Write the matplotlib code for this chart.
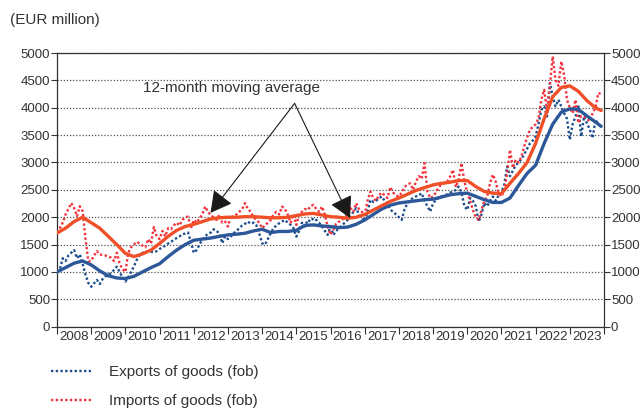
import matplotlib
matplotlib.use("Agg")
import matplotlib.pyplot as plt
import numpy as np

plt.rcParams['font.family'] = ['Liberation Sans', 'DejaVu Sans']

years = list(range(2008, 2024))

# monthly exports of goods (fob), EUR million, Jan 2008 - Dec 2023
exports = [
    1000, 1050, 1250, 1200, 1300, 1350, 1400, 1250, 1320, 1150, 950, 800,      # 2008
    730, 790, 853, 780, 870, 920, 946, 980, 1037, 1097, 1000, 900,             # 2009
    823, 900, 1000, 1100, 1220, 1310, 1350, 1370, 1380, 1370, 1360, 1380,      # 2010
    1420, 1450, 1480, 1520, 1550, 1586, 1620, 1650, 1690, 1700, 1720, 1550,    # 2011
    1350, 1400, 1500, 1586, 1650, 1700, 1720, 1780, 1750, 1700, 1525, 1650,    # 2012
    1600, 1650, 1707, 1750, 1800, 1850, 1880, 1920, 1880, 1900, 1850, 1700,    # 2013
    1525, 1500, 1600, 1708, 1800, 1850, 1890, 1920, 1951, 1900, 1860, 1800,    # 2014
    1646, 1750, 1900, 1830, 1951, 1920, 1982, 1950, 1900, 1830, 1750, 1677,    # 2015
    1830, 1677, 1750, 1800, 1850, 1900, 1951, 2000, 2100, 2165, 2050, 2000,    # 2016
    1920, 2100, 2317, 2280, 2300, 2350, 2378, 2300, 2250, 2137, 2100, 2050,    # 2017
    2000, 1951, 2150, 2250, 2317, 2350, 2380, 2400, 2439, 2300, 2200, 2104,    # 2018
    2250, 2317, 2350, 2380, 2400, 2420, 2450, 2469, 2500, 2560, 2450, 2200,    # 2019
    2134, 2350, 2300, 2200, 1920, 2050, 2262, 2200, 2300, 2378, 2300, 2400,    # 2020
    2450, 2600, 2926, 2750, 2850, 2950, 3000, 3060, 3150, 3250, 3350, 3400,    # 2021
    3475, 3700, 3963, 4024, 3841, 4452, 4200, 4024, 4146, 4024, 3900, 3800,    # 2022
    3415, 3700, 3841, 4024, 3475, 3841, 3720, 3600, 3445, 3780, 3700, 3658,    # 2023
]

# monthly imports of goods (fob), EUR million
imports = [
    1720, 1800, 1900, 2050, 2150, 2260, 2170, 2020, 2200, 2110, 1600, 1200,    # 2008
    1200, 1300, 1380, 1320, 1310, 1300, 1280, 1260, 1200, 1350, 1150, 1050,    # 2009
    1000, 1350, 1450, 1500, 1550, 1520, 1480, 1450, 1600, 1520, 1820, 1650,    # 2010
    1600, 1750, 1650, 1800, 1780, 1850, 1900, 1850, 1950, 2000, 2010, 1800,    # 2011
    1950, 1900, 1980, 2050, 2195, 2100, 2030, 2000, 1950, 2050, 1900, 1920,    # 2012
    1830, 2030, 2000, 2050, 2100, 2150, 2257, 2150, 2100, 2000, 1950, 1900,    # 2013
    1800, 1850, 1900, 1950, 2050, 2100, 2050, 2195, 2150, 2050, 1900, 2050,    # 2014
    1860, 2050, 2100, 2150, 2130, 2200, 2226, 2150, 2100, 2195, 2050, 1830,    # 2015
    1680, 1770, 1880, 1920, 1950, 1990, 2050, 2165, 2100, 2257, 2150, 2100,    # 2016
    2040, 2300, 2469, 2350, 2300, 2400, 2450, 2400, 2350, 2550, 2450, 2400,    # 2017
    2378, 2450, 2550, 2600, 2620, 2500, 2650, 2750, 2700, 2988, 2470, 2350,    # 2018
    2378, 2450, 2550, 2600, 2620, 2650, 2743, 2866, 2550, 2700, 2988, 2650,    # 2019
    2450, 2300, 2130, 2000, 1950, 2134, 2300, 2380, 2620, 2780, 2650, 2440,    # 2020
    2378, 2500, 2800, 3232, 2900, 3050, 3000, 3100, 3300, 3450, 3600, 3650,    # 2021
    3700, 3800, 4146, 4329, 3950, 4400, 4938, 4500, 4400, 4847, 4600, 4146,    # 2022
    4000, 3900, 4146, 3720, 3850, 3840, 3800, 3750, 3900, 4000, 4269, 4250,    # 2023
]

# 12-month moving averages, read at the start of each quarter (+ Dec 2023)
exports_ma = [
    1000, 1080, 1160, 1200,  1130, 1020, 930, 890,  880, 920, 1000, 1080,
    1150, 1280, 1400, 1500,  1580, 1600, 1620, 1650,  1677, 1690, 1707, 1750,
    1780, 1720, 1740, 1740,  1760, 1850, 1860, 1840,  1830, 1810, 1820, 1870,
    1950, 2050, 2150, 2220,  2260, 2280, 2300, 2320,  2330, 2370, 2410, 2430,
    2440, 2380, 2320, 2270,  2270, 2350, 2580, 2800,  2950, 3350, 3700, 3920,
    3980, 3970, 3850, 3740,  3660,
]
imports_ma = [
    1710, 1800, 1920, 2000,  1900, 1800, 1650, 1500,  1340, 1280, 1330, 1400,
    1520, 1650, 1760, 1830,  1870, 1920, 1970, 1990,  2000, 2000, 2010, 2010,
    2000, 1990, 1990, 2000,  2030, 2060, 2070, 2040,  2010, 2000, 1980, 2000,
    2050, 2130, 2210, 2290,  2350, 2420, 2490, 2540,  2590, 2620, 2640, 2670,
    2670, 2560, 2470, 2440,  2430, 2620, 2800, 3000,  3350, 3800, 4200, 4370,
    4400, 4300, 4130, 4000,  3950,
]

x_month = 2008 + np.arange(len(exports)) / 12
x_ma = list(2008 + np.arange(64) / 4) + [2023 + 11 / 12]

c_blue_dot = '#1c4e8e'
c_red_dot = '#f2323c'
c_blue = '#2c5899'
c_red = '#f04f28'
txt = '#333333'

fig = plt.figure(figsize=(6.44, 4.08), dpi=100)
ax = fig.add_axes([57 / 644, 1 - 326.7 / 408, 547 / 644, 273.7 / 408])

ax.plot(x_month, exports, color=c_blue_dot, lw=1.7, ls=(0, (1, 1.0)),
        label='Exports of goods (fob)', zorder=3)
ax.plot(x_month, imports, color=c_red_dot, lw=1.7, ls=(0, (1, 1.0)),
        label='Imports of goods (fob)', zorder=3)
ax.plot(x_ma, exports_ma, color=c_blue, lw=2.4, solid_capstyle='round', zorder=4)
ax.plot(x_ma, imports_ma, color=c_red, lw=2.4, solid_capstyle='round', zorder=4)

ax.set_xlim(2008, 2024)
ax.set_ylim(0, 5000)

ax.set_yticks(range(0, 5001, 500))
ax.yaxis.grid(True, ls=(0, (1, 1.5)), color='#555555', lw=0.9)
ax.set_axisbelow(True)
ax.tick_params(axis='y', which='both', left=True, right=True,
               labelleft=True, labelright=True, direction='out',
               length=4, width=0.8, color=txt, labelsize=9.5,
               labelcolor=txt, pad=1)

ax.set_xticks(range(2008, 2025))
ax.set_xticklabels([])
ax.set_xticks([y + 0.5 for y in years], minor=True)
ax.set_xticklabels([str(y) for y in years], minor=True)
ax.tick_params(axis='x', which='major', direction='out', length=5,
               width=0.8, color=txt)
ax.tick_params(axis='x', which='minor', length=0, labelsize=9.5,
               labelcolor=txt, pad=3)

for s in ax.spines.values():
    s.set_color(txt)
    s.set_linewidth(0.9)

# annotation with two arrows
apex = (2014.95, 4080)
ax.text(2013.09, 4360, '12-month moving average', ha='center', va='center',
        fontsize=11, color=txt)
for tip in [(2012.49, 2080), (2016.57, 1985)]:
    ax.annotate('', xy=tip, xytext=apex,
                arrowprops=dict(arrowstyle='-|>,head_length=0.55,head_width=0.3',
                                color='#1a1a1a', lw=0.8,
                                mutation_scale=24, shrinkA=0, shrinkB=0),
                zorder=5)

fig.text(10 / 644, 1 - 20 / 408, '(EUR million)', fontsize=11, color=txt,
         va='center', ha='left')

fig.legend(loc='upper left', bbox_to_anchor=(51 / 644, 1 - 365 / 408),
           frameon=False, fontsize=11, handlelength=2.6, handletextpad=1.2,
           labelspacing=1.0, borderpad=0, borderaxespad=0, labelcolor=txt)

fig.savefig('out.png', dpi=100)
